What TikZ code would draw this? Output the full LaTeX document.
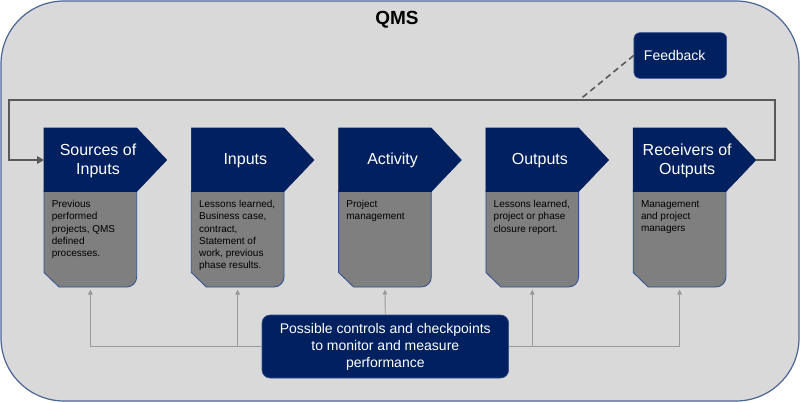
\documentclass[tikz,border=0pt]{standalone}
\usepackage{fontspec}
\setmainfont{Liberation Sans}
\usetikzlibrary{arrows.meta}
\definecolor{qblue}{HTML}{002060}
\definecolor{qbody}{HTML}{7F7F7F}
\definecolor{qbg}{HTML}{D9D9D9}
\definecolor{qframe}{HTML}{4A6496}
\definecolor{qloop}{HTML}{595959}
\definecolor{qthin}{HTML}{999999}
\definecolor{qedge}{HTML}{2F4F8F}
\begin{document}
\begin{tikzpicture}[x=1pt,y=-1pt,
  headfill/.style={fill=qblue,draw=qblue,line width=0.6pt},
  bodyfill/.style={fill=qbody,draw=qedge,line width=0.8pt},
  headtext/.style={text=white,font=\fontsize{16}{19}\selectfont,align=center,inner sep=0pt},
  bodytext/.style={text=black,font=\fontsize{10}{12.2}\selectfont,align=left,anchor=north west,inner sep=0pt},
  bluebox/.style={fill=qblue,draw=qedge,line width=0.6pt,text=white},
  loopline/.style={draw=qloop,line width=2.5pt},
  thinline/.style={draw=qthin,line width=0.9pt},
  thinarrow/.style={thinline,-{Triangle[length=5pt,width=4.5pt]}}
]
\useasboundingbox (0,0) rectangle (800,402);
\draw[qframe,line width=1.2pt,fill=qbg,rounded corners=63pt] (1,1) rectangle (799,401);
\node[font=\bfseries\fontsize{19}{22}\selectfont,text=black,inner sep=0pt] (qms) at (397,19.5) {QMS};

\foreach \i/\nm/\hd/\bd in {
  0/b1/{Sources of\\Inputs}/{Previous\\performed\\projects, QMS\\defined\\processes.},
  1/b2/{Inputs}/{Lessons learned,\\Business case,\\contract,\\Statement of\\work, previous\\phase results.},
  2/b3/{Activity}/{Project\\management},
  3/b4/{Outputs}/{Lessons learned,\\project or phase\\closure report.},
  4/b5/{Receivers of\\Outputs}/{Management\\and project\\managers}} {
  \pgfmathsetmacro{\L}{44+147.3*\i}
  \pgfmathsetmacro{\R}{\L+92.7}
  \pgfmathsetmacro{\T}{\R+30}
  \pgfmathsetmacro{\C}{\L+46.35}
  \pgfmathsetmacro{\H}{\L+54}
  % body
  \path[bodyfill] (\L,191) -- (\R,191) -- (\R,277) arc[start angle=0,end angle=90,radius=10] -- (\L+15,287) -- (\L,272.5) -- cycle;
  % header
  \path[headfill] (\L,128) -- (\R,128) -- (\T,160) -- (\R,191.5) -- (\L,191.5) -- cycle;
  \node[headtext] (\nm head) at (\H,160.5) {\hd};
  \node[bodytext] (\nm text) at (\L+7.6,200.2) {\bd};
  \coordinate (\nm in) at (\L,160);
  \coordinate (\nm tip) at (\T,160);
  \coordinate (\nm bot) at (\C,289.5);
}

% feedback loop
\coordinate (loopR) at (775,100);
\coordinate (loopL) at (9,100);
\coordinate (fbjoin) at (579.3,100);
\draw[loopline,-{Triangle[length=7pt,width=7.5pt]}] (b5tip) -| (loopR) -- (loopL) |- (b1in);

\node[bluebox,rounded corners=6pt,text width=72.7pt,inner xsep=10pt,inner ysep=0pt,minimum height=45.6pt,align=left,
  font=\fontsize{14}{16}\selectfont] (fb) at (680.3,55.5) {Feedback};
\draw[qloop,line width=1.6pt,dash pattern=on 6pt off 4pt] (fb.west) -- (fbjoin);

% controls
\node[bluebox,rounded corners=8pt,minimum width=246.6pt,minimum height=63pt,inner sep=0pt,align=center,
  font=\fontsize{14}{17}\selectfont] (ctl) at (385.3,346.5)
  {Possible controls and checkpoints\\to monitor and measure\\performance};
\draw[thinarrow] (ctl.west) -| (b1bot);
\draw[thinarrow] (ctl.west) -| (b2bot);
\draw[thinarrow] (ctl.north) -- (b3bot);
\draw[thinarrow] (ctl.east) -| (b4bot);
\draw[thinarrow] (ctl.east) -| (b5bot);
\end{tikzpicture}
\end{document}
